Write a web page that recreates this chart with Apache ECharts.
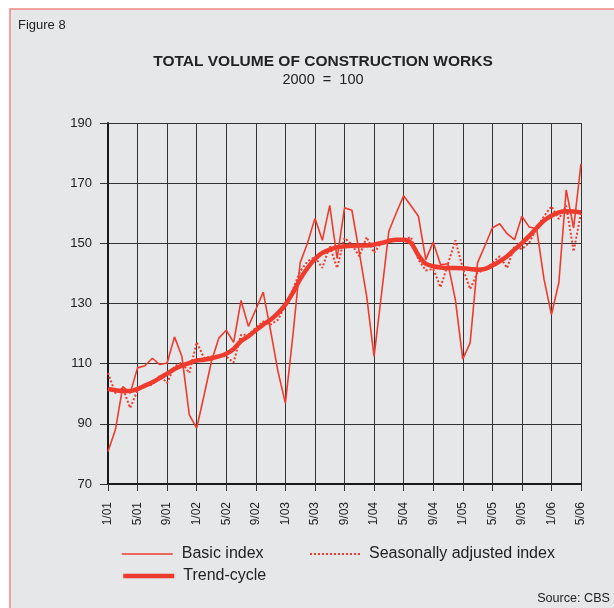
<!DOCTYPE html>
<html>
<head>
<meta charset="utf-8">
<script src="https://cdn.jsdelivr.net/npm/echarts@6/dist/echarts.min.js"></script>
<style>
  html, body { margin: 0; padding: 0; background: #fff; }
  #chart { width: 614px; height: 608px; }
</style>
</head>
<body>
<div id="chart"></div>
<script>
// months Jan 2001 .. May 2006
var months = [
  '1/01', '2/01', '3/01', '4/01', '5/01', '6/01', '7/01', '8/01', '9/01', '10/01', '11/01', '12/01',
  '1/02', '2/02', '3/02', '4/02', '5/02', '6/02', '7/02', '8/02', '9/02', '10/02', '11/02', '12/02',
  '1/03', '2/03', '3/03', '4/03', '5/03', '6/03', '7/03', '8/03', '9/03', '10/03', '11/03', '12/03',
  '1/04', '2/04', '3/04', '4/04', '5/04', '6/04', '7/04', '8/04', '9/04', '10/04', '11/04', '12/04',
  '1/05', '2/05', '3/05', '4/05', '5/05', '6/05', '7/05', '8/05', '9/05', '10/05', '11/05', '12/05',
  '1/06', '2/06', '3/06', '4/06', '5/06'
]

var basicIndex = [
  80.8, 88, 102.4, 100.2, 108.6, 109.3, 111.8, 109.7, 110.2, 118.9, 112.4, 93,
  88.6, 99.5, 110.8, 118.5, 121.1, 117.1, 131, 122.4, 128, 133.8, 121, 107.4,
  96.9, 119, 143.5, 150.1, 158.3, 151, 162.6, 145, 161.8, 161, 147, 132.4,
  112.4, 133, 154, 160.1, 165.8, 162.5, 159, 144.6, 150.4, 142.9, 143.2, 131.3,
  111.5, 116.9, 143.5, 149.2, 155.1, 156.5, 153.2, 151.2, 159, 155.4, 154.8, 138,
  126.3, 136.9, 167.8, 155.1, 176.4
]

var seasAdjusted = [
  106.9, 100.2, 101.9, 95.3, 101.1, 102.4, 103, 106, 103.6, 109.1, 110.4, 106.9,
  117.1, 111.9, 112.4, 112.7, 112.4, 110.4, 119.6, 119.6, 121.9, 124, 123, 124.6,
  129.3, 134.6, 140.7, 144, 145.5, 141.8, 149, 141.8, 151.8, 149.6, 145.7, 152.1,
  146.8, 150.3, 151.2, 151.4, 151.2, 152.1, 144.6, 141, 141.5, 135.4, 143.2, 151,
  141.8, 134.8, 140.3, 141.2, 143.5, 145.7, 141.8, 149, 148.1, 150.1, 155.1, 159,
  162.3, 158.1, 162.5, 147.3, 160.1
]

var trendCycle = [
  101.6, 101.2, 100.9, 100.9, 101.6, 102.7, 103.8, 105.2, 106.7, 108.2, 109.3, 110.2,
  111.1, 111.3, 111.8, 112.4, 113.3, 114.9, 117.5, 119.1, 121.1, 123, 124.6, 126.8,
  129.6, 133.5, 138.1, 141.8, 144.8, 146.8, 147.9, 148.7, 149, 149.2, 149.3, 149.3,
  149.6, 150.1, 150.8, 151.2, 151.2, 150.1, 146, 143.2, 142.4, 142, 141.8, 141.8,
  141.7, 141.5, 141.2, 141.5, 142.6, 144, 145.7, 147.9, 150.1, 152.5, 155.1, 157.6,
  159.2, 160.3, 160.7, 160.6, 160.3
]

var red = '#ef3b2d'
var font = '"Liberation Sans", Arial, sans-serif'

var chart = echarts.init(document.getElementById('chart'), null, { renderer: 'canvas' })

function legendItem(name, left, top, lineStyle, gap) {
  return {
    data: [name],
    left: left, top: top,
    padding: 0,
    itemWidth: 51, itemHeight: 14,
    itemStyle: { opacity: 0 },
    lineStyle: lineStyle,
    textStyle: { fontSize: 16, fontFamily: font, color: '#222', padding: [0, 0, 0, gap] }
  }
}

chart.setOption({
  backgroundColor: '#ffffff',
  animation: false,
  textStyle: { fontFamily: font, color: '#222' },
  graphic: [
    {
      type: 'rect',
      z: -10,
      shape: { x: 10, y: 9, width: 620, height: 620 },
      style: { fill: '#e6e7e9', stroke: '#f08880', lineWidth: 1.5 }
    },
    {
      type: 'text',
      left: 18, top: 19,
      style: { text: 'Figure 8', fontSize: 13, fontFamily: font, fill: '#222' }
    },
    {
      type: 'text',
      right: 4, top: 592,
      style: { text: 'Source: CBS', fontSize: 12.6, fontFamily: font, fill: '#222' }
    }
  ],
  title: {
    text: 'TOTAL VOLUME OF CONSTRUCTION WORKS',
    subtext: '2000  =  100',
    left: 318,
    textAlign: 'center',
    top: 49,
    itemGap: 2,
    textStyle: { fontSize: 15.5, fontWeight: 'bold', fontFamily: font, color: '#222' },
    subtextStyle: { fontSize: 14.5, fontFamily: font, color: '#222' }
  },
  legend: [
    legendItem('Basic index', 121, 546, { width: 1.6 }, 4),
    legendItem('Seasonally adjusted index', 309, 546, { width: 2, type: [2, 2] }, 3),
    legendItem('Trend-cycle', 121, 568, { width: 4.5 }, 4)
  ],
  grid: { left: 108, right: 33, top: 123, bottom: 124 },
  xAxis: {
    type: 'category',
    data: months,
    boundaryGap: false,
    axisLine: { lineStyle: { color: '#1a1a1a', width: 2 } },
    axisTick: { interval: 3, length: 7, lineStyle: { color: '#333', width: 1 } },
    axisLabel: { interval: 3, rotate: 90, margin: 18, fontSize: 12, fontFamily: font, color: '#222' },
    splitLine: { show: true, interval: 3, lineStyle: { color: '#333', width: 1 } }
  },
  yAxis: {
    type: 'value',
    min: 70, max: 190, interval: 20,
    axisLine: { show: true, lineStyle: { color: '#1a1a1a', width: 2 } },
    axisTick: { show: true, length: 8, lineStyle: { color: '#333', width: 1 } },
    axisLabel: { margin: 16, fontSize: 13, fontFamily: font, color: '#222' },
    splitLine: { show: true, lineStyle: { color: '#333', width: 1 } }
  },
  series: [
    {
      name: 'Basic index',
      type: 'line',
      data: basicIndex,
      symbol: 'none',
      itemStyle: { color: red },
      lineStyle: { color: red, width: 1.6 },
      z: 3
    },
    {
      name: 'Seasonally adjusted index',
      type: 'line',
      data: seasAdjusted,
      symbol: 'none',
      itemStyle: { color: red },
      lineStyle: { color: red, width: 2, type: [2, 2] },
      z: 4
    },
    {
      name: 'Trend-cycle',
      type: 'line',
      data: trendCycle,
      symbol: 'none',
      smooth: 0.3,
      itemStyle: { color: red },
      lineStyle: { color: red, width: 4.5 },
      z: 5
    }
  ]
})
</script>
</body>
</html>
